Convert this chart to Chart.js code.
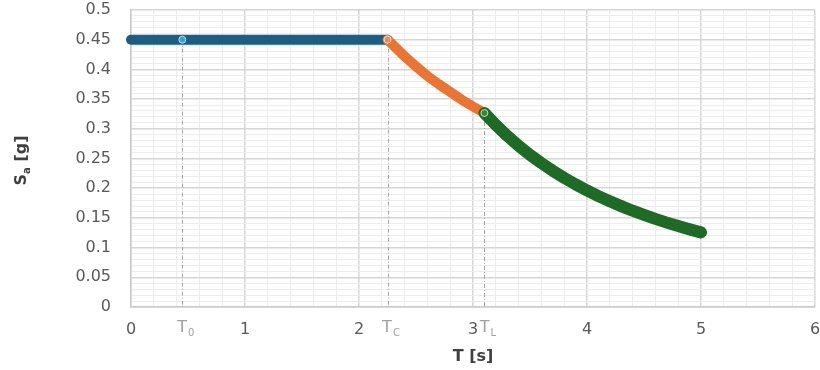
<!DOCTYPE html>
<html lang="en">
<head>
    <meta charset="UTF-8">
    <title>Design spectrum Sa(T)</title>
    <script src="https://cdn.jsdelivr.net/npm/chart.js"></script>
    <style>
        html, body { margin: 0; padding: 0; background: #fff; }
        #wrap { width: 820px; height: 370px; position: relative; }
    </style>
</head>
<body>
    <div id="wrap"><canvas id="spectrum"></canvas></div>

    <script>
        // plateau branch (0 .. TC)
        const plateauT = [0, 0.45, 2.25];
        const plateauSa = [0.45, 0.45, 0.45];

        // velocity branch (TC .. TL)
        const velocityT = [2.25, 2.4, 2.5, 2.6, 2.7, 2.8, 2.9, 3.0, 3.1];
        const velocitySa = [0.45, 0.422, 0.405, 0.389, 0.375, 0.362, 0.349, 0.3375, 0.3266];

        // displacement branch (TL .. 5 s)
        const displT = [3.1, 3.2, 3.3, 3.4, 3.5, 3.6, 3.7, 3.8, 3.9, 4.0, 4.1, 4.2, 4.3, 4.4, 4.5, 4.6, 4.7, 4.8, 4.9, 5.0];
        const displSa = [0.3266, 0.3065, 0.2882, 0.2715, 0.2562, 0.2422, 0.2293, 0.2174, 0.2064, 0.1962,
                         0.1867, 0.1779, 0.1698, 0.1621, 0.155, 0.1483, 0.1421, 0.1362, 0.1307, 0.1256];

        // corner periods marked on the x axis
        const cornerT = [0.45, 2.25, 3.1];
        const cornerSa = [0.45, 0.45, 0.3266];
        const cornerSub = ['0', 'C', 'L'];

        const toPoints = (xs, ys) => xs.map((x, i) => ({ x: x, y: ys[i] }));
        const isMajorY = v => Math.round(v * 100) % 5 === 0;
        const isMajorX = v => Math.abs(v - Math.round(v)) < 1e-6;

        const cornerPlugin = {
            id: 'corners',
            beforeDatasetsDraw(chart) {
                const { ctx, scales: { x, y } } = chart;
                ctx.save();
                ctx.strokeStyle = '#a6a6a6';
                ctx.lineWidth = 1;
                ctx.setLineDash([4, 2, 1, 2]);
                cornerT.forEach((t, i) => {
                    const px = Math.round(x.getPixelForValue(t)) + 0.5;
                    ctx.beginPath();
                    ctx.moveTo(px, y.getPixelForValue(cornerSa[i]));
                    ctx.lineTo(px, y.getPixelForValue(0));
                    ctx.stroke();
                });
                ctx.restore();
            },
            afterDraw(chart) {
                const { ctx, scales: { x }, chartArea } = chart;
                ctx.save();
                ctx.fillStyle = '#a0a0a0';
                ctx.textBaseline = 'middle';
                const ly = chartArea.bottom + 21;
                cornerT.forEach((t, i) => {
                    ctx.font = '16px "DejaVu Sans"';
                    const wT = ctx.measureText('T').width;
                    ctx.font = '10px "DejaVu Sans"';
                    const wS = ctx.measureText(cornerSub[i]).width;
                    const left = x.getPixelForValue(t) - (wT + wS) / 2 + 3;
                    ctx.font = '16px "DejaVu Sans"';
                    ctx.fillText('T', left, ly);
                    ctx.font = '10px "DejaVu Sans"';
                    ctx.fillText(cornerSub[i], left + wT + 1, ly + 5);
                });

                // y axis title with subscript
                ctx.fillStyle = '#404040';
                ctx.translate(22, (chartArea.top + chartArea.bottom) / 2 + 2);
                ctx.rotate(-Math.PI / 2);
                ctx.font = 'bold 16px "DejaVu Sans"';
                const wS = ctx.measureText('S').width;
                const wRest = ctx.measureText(' [g]').width;
                ctx.font = 'bold 10px "DejaVu Sans"';
                const wa = ctx.measureText('a').width;
                let cx = -(wS + wa + wRest) / 2;
                ctx.font = 'bold 16px "DejaVu Sans"';
                ctx.fillText('S', cx, 0);
                cx += wS;
                ctx.font = 'bold 10px "DejaVu Sans"';
                ctx.fillText('a', cx, 5);
                cx += wa;
                ctx.font = 'bold 16px "DejaVu Sans"';
                ctx.fillText(' [g]', cx, 0);
                ctx.restore();
            }
        };

        const lineSet = (label, pts, color, width, markIdx, markColor, order) => ({
            label: label,
            data: pts,
            order: order,
            borderColor: color,
            backgroundColor: color,
            borderWidth: width,
            borderCapStyle: 'round',
            borderJoinStyle: 'round',
            tension: 0,
            clip: false,
            pointRadius: pts.map((_, i) => i === markIdx ? 3.5 : 0),
            pointBackgroundColor: markColor,
            pointBorderColor: 'rgba(255,255,255,0.7)',
            pointBorderWidth: 1
        });

        new Chart(document.getElementById('spectrum'), {
            type: 'line',
            data: {
                datasets: [
                    lineSet('plateau', toPoints(plateauT, plateauSa), '#1b5e84', 10, 1, '#3a9fd8', 3),
                    lineSet('velocity', toPoints(velocityT, velocitySa), '#ea7431', 10, 0, '#f08a50', 2),
                    lineSet('displacement', toPoints(displT, displSa), '#1d6b24', 12, 0, '#2e8a36', 1)
                ]
            },
            options: {
                responsive: true,
                maintainAspectRatio: false,
                animation: false,
                layout: { padding: { left: 72, top: 10, right: 4, bottom: 0 } },
                plugins: { legend: { display: false }, tooltip: { enabled: false } },
                scales: {
                    x: {
                        type: 'linear',
                        min: 0,
                        max: 6,
                        afterFit: s => { s.height = 63; s.paddingLeft = 0; s.paddingRight = 0; },
                        border: { color: '#cacaca', width: 1.5 },
                        grid: {
                            drawTicks: false,
                            color: c => isMajorX(c.tick.value) ? '#d6d6d6' : '#ededed',
                            lineWidth: c => isMajorX(c.tick.value) ? 1.5 : 1
                        },
                        ticks: {
                            stepSize: 0.2,
                            maxTicksLimit: 100,
                            autoSkip: false,
                            maxRotation: 0,
                            padding: 13,
                            color: '#595959',
                            font: { family: '"DejaVu Sans"', size: 16 },
                            callback: v => isMajorX(v) ? String(Math.round(v)) : ''
                        },
                        title: {
                            display: true,
                            text: 'T [s]',
                            color: '#404040',
                            font: { family: '"DejaVu Sans"', size: 16, weight: 'bold' },
                            padding: { top: 0, bottom: 4 }
                        }
                    },
                    y: {
                        min: 0,
                        max: 0.5,
                        afterFit: s => { s.width = 59; s.paddingTop = 0; s.paddingBottom = 0; },
                        border: { color: '#cacaca', width: 1.5 },
                        grid: {
                            drawTicks: false,
                            color: c => isMajorY(c.tick.value) ? '#d6d6d6' : '#ededed',
                            lineWidth: c => isMajorY(c.tick.value) ? 1.5 : 1
                        },
                        ticks: {
                            stepSize: 0.01,
                            maxTicksLimit: 100,
                            autoSkip: false,
                            padding: 20,
                            color: '#595959',
                            font: { family: '"DejaVu Sans"', size: 16 },
                            callback: v => isMajorY(v) ? String(+v.toFixed(2)) : ''
                        }
                    }
                }
            },
            plugins: [cornerPlugin]
        });
    </script>
</body>
</html>
